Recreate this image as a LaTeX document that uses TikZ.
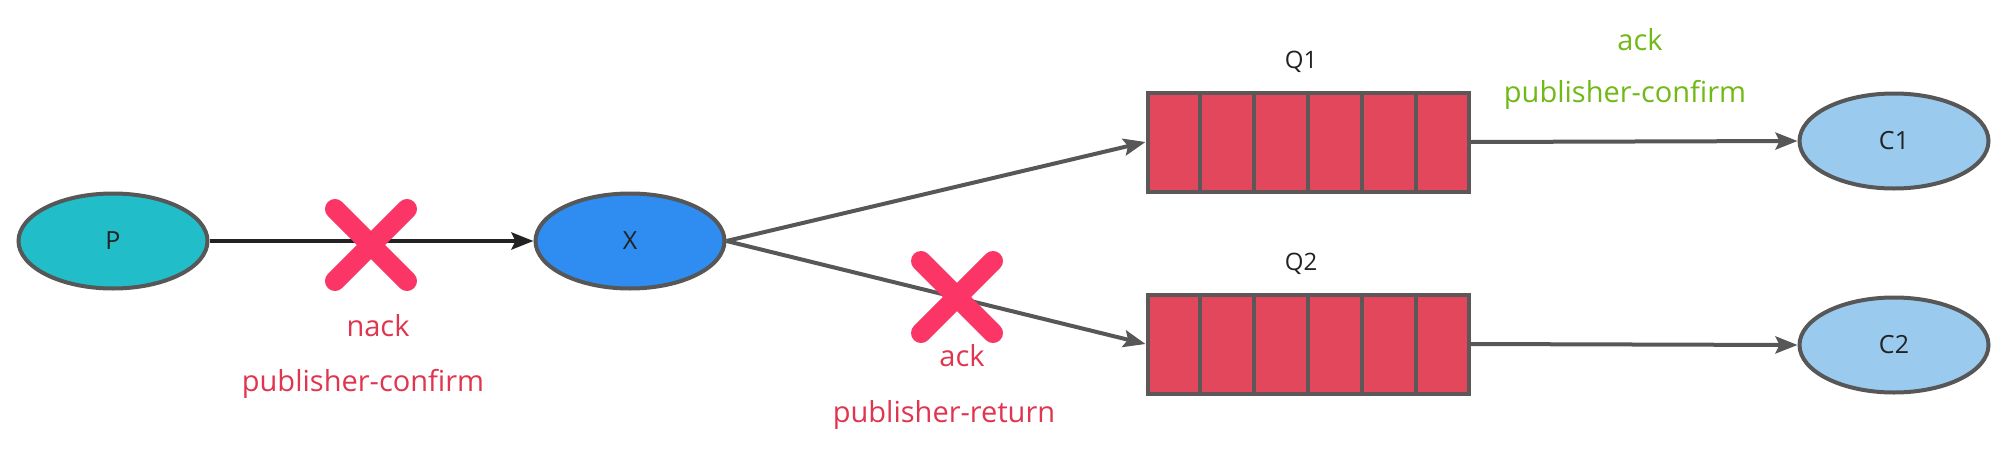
\documentclass[tikz,border=0pt]{standalone}
\usepackage{fontspec}
\setmainfont{Open Sans}
\usetikzlibrary{arrows.meta,shapes.geometric,calc}
\definecolor{pfill}{HTML}{21BECA}
\definecolor{xfill}{HTML}{2F8CF0}
\definecolor{qfill}{HTML}{E2475B}
\definecolor{cfill}{HTML}{9ACBEE}
\definecolor{edge}{HTML}{575757}
\definecolor{qedge}{HTML}{5E5758}
\definecolor{markred}{HTML}{FB3565}
\definecolor{txtred}{HTML}{E0354F}
\definecolor{txtgreen}{HTML}{72B816}
\definecolor{labeldark}{HTML}{222222}
\tikzset{
  ell/.style={ellipse, draw=edge, line width=4pt, minimum width=189pt, minimum height=95pt,
    inner sep=0pt, font=\fontsize{25}{30}\selectfont, text=labeldark},
  queue/.style={rectangle, draw=qedge, fill=qfill, line width=4pt, minimum width=321pt,
    minimum height=99pt, inner sep=0pt},
  qlabel/.style={font=\fontsize{24}{28}\selectfont, text=labeldark, anchor=base, inner sep=0pt},
  conn/.style={draw=edge, line width=4pt, -{Stealth[length=22pt,width=17pt,inset=4pt]}},
  cross/.style={draw=markred, line width=20pt, line cap=round},
  redtxt/.style={font=\fontsize{29}{34}\selectfont, text=txtred, anchor=base, inner sep=0pt},
  greentxt/.style={font=\fontsize{29}{34}\selectfont, text=txtgreen, anchor=base, inner sep=0pt},
}
\begin{document}
\begin{tikzpicture}[x=1pt,y=-1pt]
\useasboundingbox (0,0) rectangle (2012,450);
% nodes
\node[ell, fill=pfill] (P) at (113,241) {P};
\node[ell, fill=xfill] (X) at (630,241) {X};
\node[queue] (Q1) at (1308,142) {};
\node[queue] (Q2) at (1308,344) {};
\node[ell, fill=cfill] (C1) at (1894,141) {C1};
\node[ell, fill=cfill] (C2) at (1894,345) {C2};
% queue cells
\foreach \q in {Q1,Q2}{
  \foreach \i in {1,...,5}{
    \draw[qedge, line width=4pt] ($(\q.north west)!\i/6!(\q.north east)$) -- ($(\q.south west)!\i/6!(\q.south east)$);
  }
}
\node[qlabel] (Q1l) at (1301,68) {Q1};
\node[qlabel] (Q2l) at (1301,270) {Q2};
% connectors
\draw[conn, draw=labeldark] (P) -- (X);
\draw[conn] (X.east) -- (Q1.west);
\draw[conn] (X.east) -- (Q2.west);
\draw[conn] (Q1.east) -- (C1.west);
\draw[conn] (Q2.east) -- (C2.west);
% crosses
\coordinate (m1) at (371,245);
\coordinate (m2) at (957,297);
\foreach \m in {m1,m2}{
  \draw[cross] ($(\m)+(-36,-36)$) -- ($(\m)+(36,36)$);
  \draw[cross] ($(\m)+(36,-36)$) -- ($(\m)+(-36,36)$);
}
% labels
\node[redtxt] (t1) at (378,336) {nack};
\node[redtxt] (t2) at (363,391) {publisher-confirm};
\node[redtxt] (t3) at (962,366) {ack};
\node[redtxt] (t4) at (944,422) {publisher-return};
\node[greentxt] (t5) at (1640,50) {ack};
\node[greentxt] (t6) at (1625,102) {publisher-confirm};
\end{tikzpicture}
\end{document}
